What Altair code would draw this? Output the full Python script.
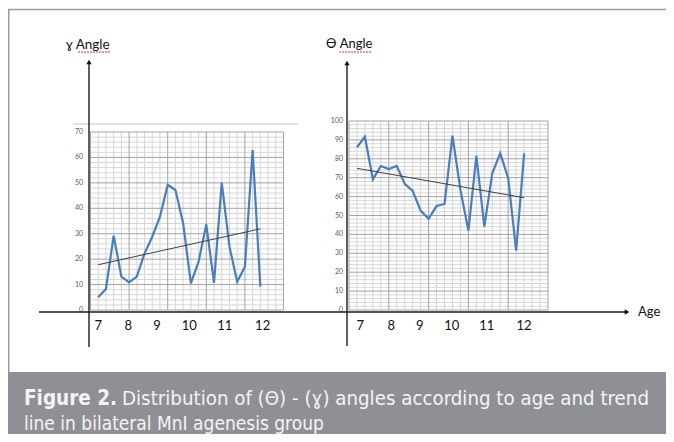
import altair as alt
import pandas as pd

# ---- data ----
obs = list(range(1, 23))
gamma = [5.0, 8.3, 29.2, 13.1, 10.9, 13.1, 22.3, 28.8, 36.7, 49.2, 47.2,
         34.1, 10.5, 19.0, 33.7, 10.7, 50.1, 24.9, 11.1, 17.0, 62.9, 9.2]
theta = [86.1, 91.7, 69.1, 76.2, 74.6, 76.2, 66.7, 63.0, 52.6, 48.3, 55.0,
         56.1, 92.2, 63.5, 42.0, 81.5, 44.1, 72.3, 82.9, 69.7, 31.4, 82.9]
ages = ["7", "8", "9", "10", "11", "12"]
gamma_age_pos = [1.0, 4.9, 8.6, 12.8, 17.4, 22.3]
theta_age_pos = [1.4, 5.3, 8.9, 12.9, 17.3, 22.0]
gamma_ticks = list(range(0, 71, 10))
theta_ticks = list(range(0, 101, 10))

LABEL_FONT = "Lato"
CAP_FONT = "DejaVu Sans Condensed, sans-serif"


def panel(values, ymax, xrange, yrange, age_pos, ticks, tick_x):
    xs = alt.Scale(domain=[0, 25], range=xrange, nice=False, zero=False)
    ys = alt.Scale(domain=[0, ymax], range=yrange, nice=False, zero=False)
    df = pd.DataFrame({"obs": obs, "angle": values})
    vg = pd.DataFrame({"g": list(range(0, 26))})
    vg["lo"] = 0
    vg["hi"] = ymax
    vg["major"] = vg["g"] % 5 == 0
    hg = pd.DataFrame({"h": list(range(0, ymax + 1, 2))})
    hg["lo"] = 0
    hg["hi"] = 25
    hg["major"] = hg["h"] % 10 == 0

    layers = []
    for major, col in [(False, "#d6d6d6"), (True, "#a3a3a3")]:
        layers.append(
            alt.Chart(vg[vg["major"] == major]).mark_rule(color=col, strokeWidth=1).encode(
                x=alt.X("g:Q", scale=xs, axis=None),
                y=alt.Y("lo:Q", scale=ys, axis=None),
                y2="hi:Q",
            )
        )
        layers.append(
            alt.Chart(hg[hg["major"] == major]).mark_rule(color=col, strokeWidth=1).encode(
                y=alt.Y("h:Q", scale=ys, axis=None),
                x=alt.X("lo:Q", scale=xs, axis=None),
                x2="hi:Q",
            )
        )
    layers.append(
        alt.Chart(df).mark_line(color="#4a7ebb", strokeWidth=2.2).encode(
            x=alt.X("obs:Q", scale=xs, axis=None),
            y=alt.Y("angle:Q", scale=ys, axis=None),
        )
    )
    layers.append(
        alt.Chart(df).transform_regression("obs", "angle").mark_line(
            color="#404040", strokeWidth=1
        ).encode(
            x=alt.X("obs:Q", scale=xs, axis=None),
            y=alt.Y("angle:Q", scale=ys, axis=None),
        )
    )
    layers.append(
        alt.Chart(pd.DataFrame({"t": ticks})).mark_text(
            align="right", baseline="middle", fontSize=7, color="#595959", font=LABEL_FONT
        ).encode(
            x=alt.value(tick_x),
            y=alt.Y("t:Q", scale=ys, axis=None),
            text="t:Q",
        )
    )
    layers.append(
        alt.Chart(pd.DataFrame({"p": age_pos, "a": ages})).mark_text(
            align="center", baseline="middle", fontSize=13, color="#111111", font=LABEL_FONT
        ).encode(
            x=alt.X("p:Q", scale=xs, axis=None),
            y=alt.value(318),
            text="a:N",
        )
    )
    return alt.layer(*layers)


left = panel(gamma, 70, [82.5, 275.5], [302, 124], gamma_age_pos, gamma_ticks, 75)
right = panel(theta, 100, [341, 540], [302, 113], theta_age_pos, theta_ticks, 335)

one = alt.Data(values=[{}])


def rule(x, x2, y, y2, color, w, dash=None):
    kw = dict(color=color, strokeWidth=w)
    if dash:
        kw["strokeDash"] = dash
    return alt.Chart(one).mark_rule(**kw).encode(
        x=alt.value(x), x2=alt.value(x2), y=alt.value(y), y2=alt.value(y2)
    )


def label(txt, x, y, size, color="#111111", font=LABEL_FONT, weight="normal", align="left"):
    return alt.Chart(one).mark_text(
        text=txt, align=align, baseline="middle", fontSize=size, color=color,
        font=font, fontWeight=weight
    ).encode(x=alt.value(x), y=alt.value(y))


def arrow(x, y, shape):
    return alt.Chart(one).mark_point(
        shape=shape, filled=True, color="#111111", size=28, opacity=1
    ).encode(x=alt.value(x), y=alt.value(y))


W = 658
H = 426

deco = [
    # frame (top and left edges; right/bottom fall outside the canvas or under the caption)
    alt.Chart(one).mark_rect(fill="transparent", stroke="#9a9a9a", strokeWidth=1.5).encode(
        x=alt.value(0.75), x2=alt.value(W + 6), y=alt.value(1.5), y2=alt.value(H + 6)
    ),
    # keep the right edge clean
    rule(W - 0.75, W - 0.75, 3, H, "#ffffff", 2),
    # light line above left grid
    rule(65, 290, 116, 116, "#c4c4c4", 1),
    # black axes
    rule(31, 617, 304, 304, "#1a1a1a", 1.4),
    rule(81, 81, 55, 339, "#1a1a1a", 1.4),
    rule(339, 339, 56, 338, "#1a1a1a", 1.4),
    arrow(81, 54, "triangle-up"),
    arrow(339, 55, "triangle-up"),
    arrow(619, 304, "triangle-right"),
    label("Age", 630, 304, 13),
    label("ɣ Angle", 58, 37, 13.5),
    label("ϴ Angle", 318, 36, 13),
    rule(70, 103, 44, 44, "#e03030", 1, [2, 1]),
    rule(331, 364, 44, 44, "#e03030", 1, [2, 1]),
    # caption box
    alt.Chart(one).mark_rect(color="#8f9095").encode(
        x=alt.value(0), x2=alt.value(W), y=alt.value(364), y2=alt.value(H)
    ),
    label("Figure 2.", 16, 391, 20.5, "#f4f4f4", CAP_FONT, "bold"),
    label("Distribution of (Θ) - (ɣ) angles according to age and trend", 114, 391, 20.3,
          "#f4f4f4", CAP_FONT),
    label("line in bilateral MnI agenesis group", 16, 416, 19, "#f4f4f4", CAP_FONT),
]

chart = alt.layer(left, right, *deco).resolve_scale(
    x="independent", y="independent"
).properties(
    width=W, height=H, autosize=alt.AutoSizeParams(type="none"), padding=0
).configure_view(strokeWidth=0, stroke="transparent")

chart.save("out.html", embed_options={"renderer": "svg", "actions": False})
